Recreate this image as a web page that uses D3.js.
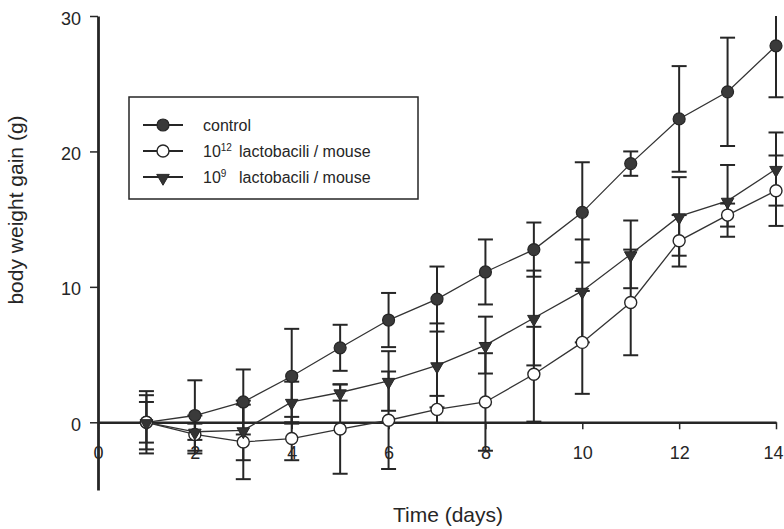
<!DOCTYPE html>
<html>
<head>
<meta charset="utf-8">
<script src="https://cdn.jsdelivr.net/npm/d3@7"></script>
<style>
  html, body { margin: 0; padding: 0; background: #fff; }
  svg { display: block; font-family: "Liberation Sans", Arial, Helvetica, sans-serif; }
</style>
</head>
<body>
<svg id="chart" width="784" height="529"></svg>
<script>
// ---- data ----
const days = [1, 2, 3, 4, 5, 6, 7, 8, 9, 10, 11, 12, 13, 14];
const controlMean = [0, 0.5, 1.5, 3.4, 5.5, 7.55, 9.1, 11.1, 12.75, 15.5, 19.1, 22.4, 24.4, 27.8];
const controlErr  = [2.3, 2.6, 2.4, 3.5, 1.7, 2.0, 2.4, 2.4, 2.0, 3.7, 0.9, 3.9, 4.0, 3.8];
const lacto12Mean = [0, -0.9, -1.45, -1.2, -0.5, 0.15, 0.95, 1.5, 3.55, 5.9, 8.85, 13.4, 15.3, 17.1];
const lacto12Err  = [2.0, 1.4, 2.75, 1.6, 3.3, 3.6, 1.0, 3.6, 3.5, 3.8, 3.9, 1.9, 0.85, 2.6];
const lacto9Mean  = [0, -0.7, -0.6, 1.5, 2.2, 3.05, 4.2, 5.7, 7.7, 9.7, 12.4, 15.2, 16.35, 18.7];
const lacto9Err   = [1.5, 0.6, 2.2, 1.5, 0.6, 2.2, 3.1, 2.1, 3.5, 3.8, 2.5, 2.9, 2.65, 2.7];
const xTicks = [0, 2, 4, 6, 8, 10, 12, 14];
const yTicks = [0, 10, 20, 30];
const seriesNames = ["control", "lactobacili / mouse", "lactobacili / mouse"];
const seriesDoses = ["", "12", "9"];
const xTitle = "Time (days)";
const yTitle = "body weight gain (g)";

const series = [
  { name: seriesNames[0], dose: seriesDoses[0], mean: controlMean, err: controlErr, marker: "filled" },
  { name: seriesNames[1], dose: seriesDoses[1], mean: lacto12Mean, err: lacto12Err, marker: "open" },
  { name: seriesNames[2], dose: seriesDoses[2], mean: lacto9Mean,  err: lacto9Err,  marker: "triangle" }
];

const ink = "#262626";
const svg = d3.select("#chart");

const x = d3.scaleLinear().domain([0, 14]).range([98, 776]);
const y = d3.scaleLinear().domain([-5, 30]).range([490, 16]);

// clip for error bars (nothing above 30)
svg.append("defs").append("clipPath").attr("id", "plotclip")
  .append("rect").attr("x", 0).attr("y", y(30)).attr("width", 784).attr("height", 529 - y(30));

// ---- axes ----
const xAxis = svg.append("g").attr("transform", `translate(0,${y(0)})`)
  .call(d3.axisBottom(x).tickValues(xTicks).tickSize(7).tickSizeOuter(0).tickFormat(d3.format("d")));
xAxis.select(".domain").attr("stroke", ink).attr("stroke-width", 2.6);
xAxis.selectAll(".tick line").attr("stroke", ink).attr("stroke-width", 1.5);
xAxis.selectAll(".tick text").attr("fill", ink).attr("font-size", 18)
  .attr("y", 37).attr("dy", 0)
  .attr("dx", d => d === 14 ? -3 : 0);

const yAxis = svg.append("g").attr("transform", `translate(${x(0)},0)`)
  .call(d3.axisLeft(y).tickValues(yTicks).tickSize(8).tickSizeOuter(0).tickFormat(d3.format("d")));
yAxis.select(".domain").attr("stroke", ink).attr("stroke-width", 2.8);
yAxis.selectAll(".tick line").attr("stroke", ink).attr("stroke-width", 1.5);
yAxis.selectAll(".tick text").attr("fill", ink).attr("font-size", 18)
  .attr("x", -17).attr("dy", "0.45em");

svg.append("text").attr("x", 448).attr("y", 522).attr("text-anchor", "middle")
  .attr("font-size", 21).attr("fill", ink).text(xTitle);
svg.append("text").attr("transform", "translate(23,210) rotate(-90)").attr("text-anchor", "middle")
  .attr("font-size", 21).attr("fill", ink).text(yTitle);

// ---- error bars ----
const capW = 7.5;
const eb = svg.append("g").attr("clip-path", "url(#plotclip)");
series.forEach(s => {
  const g = eb.append("g").attr("stroke", ink).attr("stroke-width", 2);
  days.forEach((d, i) => {
    const cx = x(d), top = y(s.mean[i] + s.err[i]), bot = y(s.mean[i] - s.err[i]);
    g.append("line").attr("x1", cx).attr("x2", cx).attr("y1", top).attr("y2", bot);
    g.append("line").attr("x1", cx - capW).attr("x2", cx + capW).attr("y1", top).attr("y2", top);
    g.append("line").attr("x1", cx - capW).attr("x2", cx + capW).attr("y1", bot).attr("y2", bot);
  });
});

// ---- lines ----
const line = d3.line().x((d, i) => x(days[i])).y(d => y(d));
series.forEach(s => {
  svg.append("path").attr("d", line(s.mean)).attr("fill", "none")
    .attr("stroke", "#333").attr("stroke-width", 1.3);
});

// ---- markers ----
const tri = d3.symbol().type(d3.symbolTriangle).size(68)();
function drawMarker(g, kind, cx, cy) {
  if (kind === "filled") {
    g.append("circle").attr("cx", cx).attr("cy", cy).attr("r", 6)
      .attr("fill", "#3a3a3a").attr("stroke", ink).attr("stroke-width", 1.2);
  } else if (kind === "open") {
    g.append("circle").attr("cx", cx).attr("cy", cy).attr("r", 6)
      .attr("fill", "#fff").attr("stroke", ink).attr("stroke-width", 1.4);
  } else {
    g.append("path").attr("d", tri)
      .attr("transform", `translate(${cx},${cy + 1}) rotate(180)`)
      .attr("fill", "#333").attr("stroke", ink).attr("stroke-width", 1);
  }
}
const mk = svg.append("g");
series.forEach(s => {
  days.forEach((d, i) => drawMarker(mk, s.marker, x(d), y(s.mean[i])));
});

// ---- legend ----
const lg = svg.append("g");
lg.append("rect").attr("x", 129).attr("y", 97).attr("width", 289).attr("height", 102)
  .attr("fill", "#fff").attr("stroke", ink).attr("stroke-width", 1.5);
const rowY = [125, 151, 177];
series.forEach((s, i) => {
  lg.append("line").attr("x1", 143).attr("x2", 183).attr("y1", rowY[i]).attr("y2", rowY[i])
    .attr("stroke", ink).attr("stroke-width", 2);
  drawMarker(lg, s.marker, 163, rowY[i]);
  const t = lg.append("text").attr("x", 203).attr("y", rowY[i] + 5.5)
    .attr("font-size", 16).attr("fill", ink);
  if (s.dose) {
    t.append("tspan").text("10");
    t.append("tspan").attr("font-size", 10).attr("dy", -6).text(s.dose);
    t.append("tspan").attr("x", 239).attr("dy", 6).text(s.name);
  } else {
    t.text(s.name);
  }
});
</script>
</body>
</html>
